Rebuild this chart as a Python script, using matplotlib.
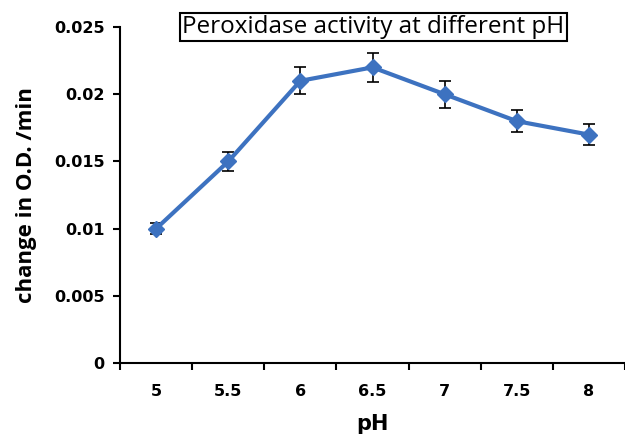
import numpy as np
import matplotlib.pyplot as plt

ph_labels = ['5', '5.5', '6', '6.5', '7', '7.5', '8']
activity = [0.010, 0.015, 0.021, 0.022, 0.020, 0.018, 0.017]
errors = [0.0004, 0.0007, 0.001, 0.0011, 0.001, 0.0008, 0.0008]

fig = plt.figure(figsize=(6.25, 4.36), dpi=100)
ax = fig.add_axes([0.192, 0.167, 0.808, 0.771])

x = np.arange(len(ph_labels))
ax.errorbar(x, activity, yerr=errors, color='#3d72c0', lw=3, marker='D', ms=8,
            ecolor='black', elinewidth=1.2, capsize=4, capthick=1.2, zorder=3)

ax.set_xlim(-0.5, len(ph_labels) - 0.5)
ax.set_ylim(0, 0.025)
ax.set_yticks([0, 0.005, 0.01, 0.015, 0.02, 0.025])
ax.set_yticklabels(['0', '0.005', '0.01', '0.015', '0.02', '0.025'])
ax.set_xticks(np.arange(-0.5, len(ph_labels), 1.0))
ax.set_xticklabels([])
ax.set_xticks(x, minor=True)
ax.set_xticklabels(ph_labels, minor=True)
ax.tick_params(axis='x', which='minor', length=0, pad=15)
ax.tick_params(axis='x', which='major', length=5, width=1.5)
ax.tick_params(axis='y', length=5, width=1.5, pad=6)
for lab in ax.get_xticklabels(minor=True) + ax.get_yticklabels():
    lab.set_fontweight('bold')
    lab.set_fontsize(11.5)

for s in ['top', 'right']:
    ax.spines[s].set_visible(False)
for s in ['left', 'bottom']:
    ax.spines[s].set_linewidth(1.5)

ax.set_ylabel('change in O.D. /min', fontsize=16, fontweight='bold', family='Open Sans',
              labelpad=12)
ax.set_xlabel('pH', fontsize=15, fontweight='bold', labelpad=11)

fig.text(0.597, 0.938, 'Peroxidase activity at different pH', ha='center', va='center',
         fontsize=17.5, family='Open Sans',
         bbox=dict(boxstyle='square,pad=0.1', fc='white', ec='black', lw=1.5))

fig.savefig('out.png', dpi=100)
